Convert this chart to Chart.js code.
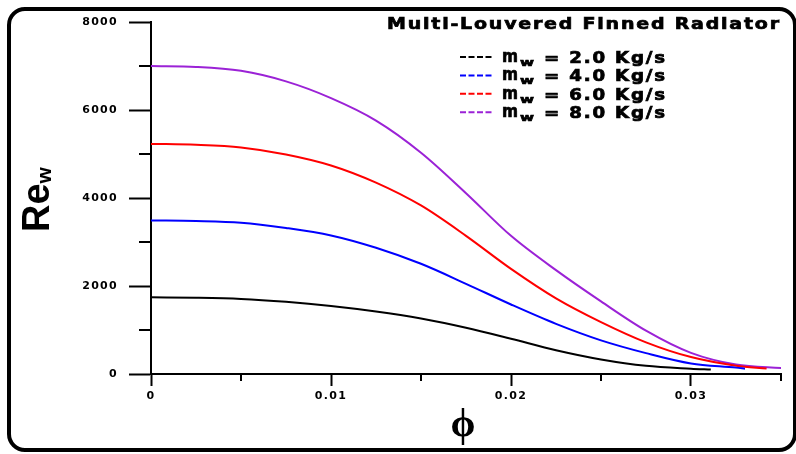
<!DOCTYPE html>
<html>
<head>
<meta charset="utf-8">
<script src="https://cdn.jsdelivr.net/npm/chart.js@4.4.0/dist/chart.umd.min.js"></script>
<style>
  body { margin: 0; background: #fff; }
  canvas { display: block; }
</style>
</head>
<body>
<canvas id="reChart" width="796" height="454"></canvas>
<script>
// volume fraction phi (x) and water Reynolds number Re_w (y)
const phiGrid = [0, 0.0025, 0.005, 0.0075, 0.01, 0.0125, 0.015, 0.0175, 0.02, 0.0225, 0.025, 0.0275, 0.03];

const phi2 = phiGrid.concat([0.0311]);
const reW2 = [1742, 1732, 1705, 1640, 1545, 1420, 1260, 1050, 800, 540, 330, 185, 120, 100];

const phi4 = phiGrid.concat([0.0325, 0.033]);
const reW4 = [3490, 3478, 3440, 3320, 3150, 2870, 2505, 2050, 1580, 1140, 765, 475, 240, 145, 122];

const phi6 = phiGrid.concat([0.0325, 0.0342]);
const reW6 = [5230, 5210, 5150, 4990, 4740, 4350, 3830, 3140, 2390, 1720, 1180, 720, 385, 190, 125];

const phi8 = phiGrid.concat([0.0325, 0.0351]);
const reW8 = [7000, 6980, 6890, 6650, 6270, 5760, 5030, 4110, 3140, 2360, 1650, 985, 480, 215, 135];

const flowRates = ['2.0', '4.0', '6.0', '8.0'];
const lineColors = ['#000000', '#0000ff', '#ff0000', '#9b22d6'];
const xTickLabels = ['0', '0.01', '0.02', '0.03'];
const yTickLabels = ['0', '2000', '4000', '6000', '8000'];

function toPoints(xs, ys) {
  return xs.map((x, i) => ({ x: x, y: ys[i] }));
}

const seriesX = [phi2, phi4, phi6, phi8];
const seriesY = [reW2, reW4, reW6, reW8];

const datasets = seriesY.map((ys, i) => ({
  label: 'm_w = ' + flowRates[i] + ' Kg/s',
  data: toPoints(seriesX[i], ys),
  borderColor: lineColors[i],
  borderWidth: 2,
  pointRadius: 0,
  fill: false,
  cubicInterpolationMode: 'monotone'
}));

// heavy, stretched text to mimic the wide bold face of the original
function heavyText(ctx, text, x, y, width, spacing) {
  ctx.save();
  ctx.letterSpacing = spacing + 'px';
  const w = ctx.measureText(text).width - spacing;
  ctx.translate(x, y);
  ctx.scale(width / w, 1);
  ctx.fillText(text, 0, 0);
  ctx.lineWidth = 0.7;
  ctx.strokeStyle = ctx.fillStyle;
  ctx.strokeText(text, 0, 0);
  ctx.restore();
}

const decorations = {
  id: 'decorations',
  beforeDraw(chart) {
    chart.ctx.letterSpacing = '1.3px';
  },
  beforeDatasetsDraw(chart) {
    chart.ctx.letterSpacing = '0px';
  },
  afterDraw(chart) {
    const ctx = chart.ctx;
    const xs = chart.scales.x;
    const ys = chart.scales.y;
    ctx.save();
    ctx.letterSpacing = '0px';

    // minor ticks
    ctx.strokeStyle = '#000';
    ctx.lineWidth = 2;
    xs.ticks.forEach(t => {
      if (t.label !== '') return;
      const px = xs.getPixelForValue(t.value);
      ctx.beginPath();
      ctx.moveTo(px, xs.top);
      ctx.lineTo(px, xs.top + 7);
      ctx.stroke();
    });
    ys.ticks.forEach(t => {
      if (t.label !== '') return;
      const py = ys.getPixelForValue(t.value);
      ctx.beginPath();
      ctx.moveTo(ys.right - 12, py);
      ctx.lineTo(ys.right, py);
      ctx.stroke();
    });

    // frame
    ctx.lineWidth = 4;
    ctx.beginPath();
    ctx.roundRect(9, 9, 786, 441, 16);
    ctx.stroke();

    // title
    ctx.fillStyle = '#000';
    ctx.textBaseline = 'alphabetic';
    ctx.textAlign = 'left';
    ctx.font = 'bold 16px "DejaVu Sans"';
    heavyText(ctx, 'Multi-Louvered Finned Radiator', 387, 29, 392, 1.5);

    // legend
    datasets.forEach((ds, i) => {
      const cy = 57 + i * 18.4;
      ctx.strokeStyle = ds.borderColor;
      ctx.lineWidth = 2;
      ctx.setLineDash([6, 2.5]);
      ctx.beginPath();
      ctx.moveTo(460, cy);
      ctx.lineTo(493, cy);
      ctx.stroke();
      ctx.setLineDash([]);
      ctx.fillStyle = '#000';
      ctx.font = 'bold 17px "DejaVu Sans"';
      heavyText(ctx, 'm', 502, cy + 5, 16, 0);
      ctx.font = 'bold 11px "DejaVu Sans"';
      heavyText(ctx, 'w', 520, cy + 9, 14, 0);
      ctx.font = 'bold 15px "DejaVu Sans"';
      heavyText(ctx, '= ' + flowRates[i] + ' Kg/s', 544, cy + 6, 121, 1.5);
    });

    // y axis title
    ctx.save();
    ctx.translate(49, 232);
    ctx.rotate(-Math.PI / 2);
    ctx.font = 'bold 38px "Liberation Sans"';
    ctx.fillText('Re', 0, 0);
    const reWidth = ctx.measureText('Re').width;
    ctx.font = 'bold 21px "Liberation Sans"';
    ctx.fillText('w', reWidth, 2);
    ctx.restore();

    // x axis title
    ctx.font = 'bold 40px "Liberation Serif", "DejaVu Serif"';
    ctx.textAlign = 'center';
    ctx.textBaseline = 'middle';
    ctx.fillText('\u03D5', 463, 426);

    ctx.restore();
  }
};

const tickFont = { family: 'DejaVu Sans', size: 11, weight: 'bold' };

new Chart(document.getElementById('reChart'), {
  type: 'line',
  data: { datasets: datasets },
  options: {
    responsive: false,
    animation: false,
    layout: { padding: { top: 22, right: 15, left: 0, bottom: 0 } },
    plugins: {
      legend: { display: false },
      tooltip: { enabled: false }
    },
    scales: {
      x: {
        type: 'linear',
        min: 0,
        max: 0.035,
        afterFit: s => { s.height = 80; },
        ticks: {
          stepSize: 0.005,
          autoSkip: false,
          maxRotation: 0,
          color: '#000',
          font: tickFont,
          padding: 4,
          callback: v => {
            const k = Math.round(v * 100);
            return Math.abs(v * 100 - k) < 1e-6 ? xTickLabels[k] : '';
          }
        },
        grid: {
          drawOnChartArea: false,
          tickLength: 12,
          tickWidth: 2,
          tickColor: c => (c.tick && c.tick.label !== '') ? '#000' : 'rgba(0,0,0,0)'
        },
        border: { color: '#000', width: 2 }
      },
      y: {
        min: 0,
        max: 8000,
        afterFit: s => { s.width = 151; },
        ticks: {
          stepSize: 1000,
          autoSkip: false,
          color: '#000',
          font: tickFont,
          padding: 11,
          callback: v => (v % 2000 === 0) ? yTickLabels[v / 2000] : ''
        },
        grid: {
          drawOnChartArea: false,
          tickLength: 22,
          tickWidth: 2,
          tickColor: c => (c.tick && c.tick.label !== '') ? '#000' : 'rgba(0,0,0,0)'
        },
        border: { color: '#000', width: 2 }
      }
    }
  },
  plugins: [decorations]
});
</script>
</body>
</html>
